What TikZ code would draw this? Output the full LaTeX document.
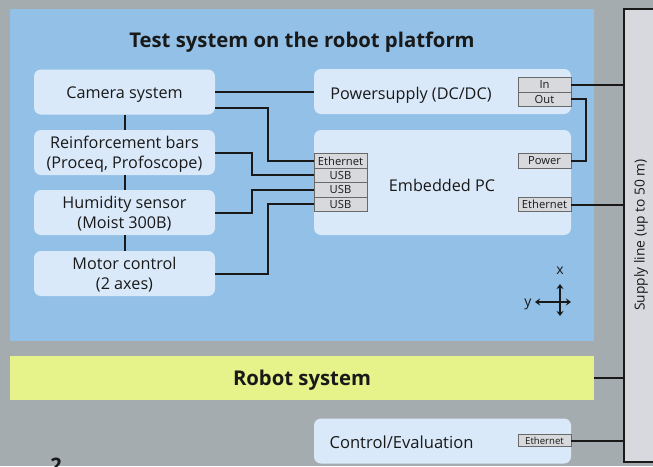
\documentclass[tikz,border=0pt]{standalone}
\usepackage{fontspec}
\setmainfont{Open Sans}
\usetikzlibrary{calc,arrows.meta}
\definecolor{bggray}{RGB}{165,172,175}
\definecolor{panelblue}{RGB}{147,192,230}
\definecolor{boxblue}{RGB}{218,233,249}
\definecolor{portgray}{RGB}{215,217,220}
\definecolor{portedge}{RGB}{105,105,105}
\definecolor{robotyellow}{RGB}{230,242,138}
\definecolor{supplygray}{RGB}{215,217,222}
\definecolor{ink}{RGB}{25,25,25}
\tikzset{
  box/.style={fill=boxblue, draw=none, rounded corners=7pt, minimum width=181, minimum height=45, inner sep=0pt, align=center, font=\fontsize{16.2}{19.5}\selectfont, text=ink, execute at begin node={\rule{0pt}{17pt}}},
  box2/.style={fill=boxblue, draw=none, rounded corners=7pt, minimum width=181, minimum height=45, inner sep=0pt, align=center, font=\fontsize{16.2}{19.5}\selectfont, text=ink, text depth=-1pt},
  bigbox/.style={fill=boxblue, draw=none, rounded corners=7pt, minimum width=257, minimum height=45, inner sep=0pt},
  boxtext/.style={font=\fontsize{16.2}{19.5}\selectfont, text=ink},
  port/.style={fill=portgray, draw=portedge, line width=0.8pt, minimum width=53, minimum height=14.4, inner sep=0pt, font=\fontsize{11.2}{12}\selectfont, text=ink},
  wire/.style={draw=ink, line width=2pt},
}
\begin{document}
\begin{tikzpicture}[x=1pt,y=-1pt]
\useasboundingbox (0,0) rectangle (653,466);
\fill[bggray] (0,0) rectangle (653,466);
% panel
\fill[panelblue] (10,9) rectangle (594,341);
\node[font=\bfseries\fontsize{20.3}{24}\selectfont, text=ink] (title) at (302,42) {Test system on the robot platform};
% left boxes
\node[box] (cam) at (124.5,92) {Camera system};
\node[box2] (rb) at (124.5,152.5) {Reinforcement bars\\(Proceq, Profoscope)};
\node[box2] (hs) at (124.5,212.5) {Humidity sensor\\(Moist 300B)};
\node[box2] (mc) at (124.5,273.5) {Motor control\\(2 axes)};
\draw[wire] (cam.south) -- (rb.north);
\draw[wire] (rb.south) -- (hs.north);
\draw[wire] (hs.south) -- (mc.north);
% right boxes
\node[bigbox] (ps) at (442.5,91.5) {};
\node[boxtext] (pstext) at (411,95) {Powersupply (DC/DC)};
\node[bigbox, minimum height=105] (pc) at (442.5,182.5) {};
\node[boxtext] (pctext) at (442,185.5) {Embedded PC};
% ports
\node[port] (pin) at (544.5,85) {In};
\node[port] (pout) at (544.5,99.4) {Out};
\node[port] (ppow) at (544.5,161) {Power};
\node[port] (peth2) at (544.5,204.5) {Ethernet};
\node[port] (peth) at (340.5,161) {Ethernet};
\node[port] (usb1) at (340.5,175.4) {USB};
\node[port] (usb2) at (340.5,189.8) {USB};
\node[port] (usb3) at (340.5,204.2) {USB};
% supply line
\draw[fill=supplygray, draw=ink, line width=2.5pt] (624,9) rectangle (670,462);
\node[rotate=90, font=\fontsize{13.8}{16}\selectfont, text=ink] (suptext) at (641,235) {Supply line (up to 50 m)};
\coordinate (supw) at (623,0);
% robot
\fill[robotyellow] (10,356) rectangle (594,400);
\node[font=\bfseries\fontsize{20.3}{24}\selectfont, text=ink] (robot) at (302,380) {Robot system};
\coordinate (roboteast) at (594,378);
% control
\node[bigbox] (ce) at (442.5,441) {};
\node[anchor=west, font=\fontsize{16.6}{19}\selectfont, text=ink] (cetext) at (326,442) {Control/Evaluation};
\node[port, minimum height=12, font=\fontsize{9.6}{10}\selectfont] (ceth) at (544.5,440.5) {Ethernet};
% wires
\draw[wire] (cam.east) -- (cam.east -| ps.west);
\draw[wire] ([yshift=-16pt]cam.east) -- ++(53,0) |- (peth.west);
\draw[wire] (rb.east) -- ++(37,0) |- (usb1.west);
\draw[wire] (hs.east) -- ++(37,0) |- (usb2.west);
\draw[wire] (mc.east) -- ++(53,0) |- (usb3.west);
\draw[wire] (pin.east) -- (pin.east -| supw);
\draw[wire] (pout.east) -- ++(15,0) |- (ppow.east);
\draw[wire] (peth2.east) -- (peth2.east -| supw);
\draw[wire] (roboteast) -- (roboteast -| supw);
\draw[wire] (ceth.east) -- (ceth.east -| supw);
% axes
\coordinate (axc) at (560,302);
\draw[ink, line width=1.6pt, {Stealth[length=5pt,width=7pt]}-{Stealth[length=5pt,width=7pt]}] (560,284) -- (560,316);
\draw[ink, line width=1.6pt, {Stealth[length=5pt,width=7pt]}-{Stealth[length=5pt,width=7pt]}] (535,302) -- (571,302);
\node[font=\fontsize{14}{15}\selectfont, text=ink] (xl) at (560,271) {x};
\node[font=\fontsize{14}{15}\selectfont, text=ink] (yl) at (528,304) {y};
% figure number fragment (cut off at the lower edge, as in the reference)
\node[anchor=north, font=\bfseries\fontsize{20}{22}\selectfont, text=ink, inner sep=0pt] (fig) at (56,458) {2};
\end{tikzpicture}
\end{document}
